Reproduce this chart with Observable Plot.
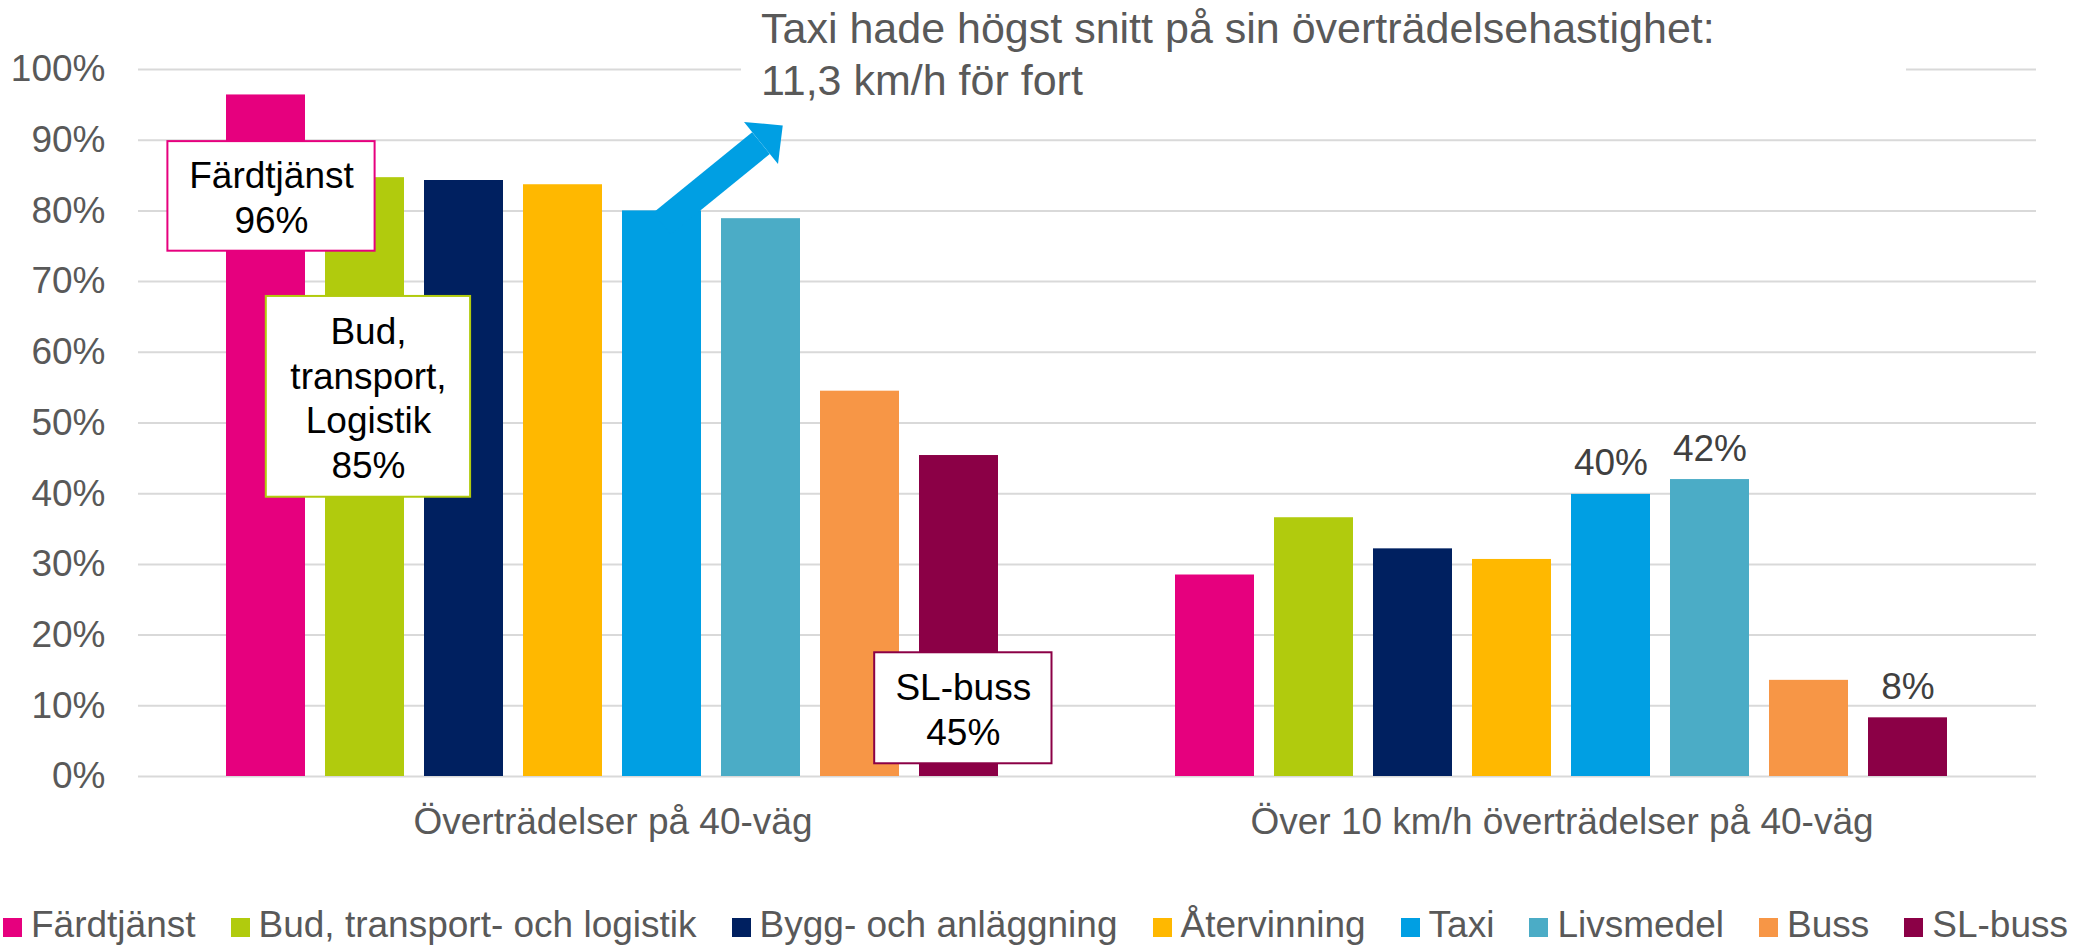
<!DOCTYPE html>
<html>
<head>
<meta charset="utf-8">
<script src="https://cdn.jsdelivr.net/npm/d3@7"></script>
<script src="https://cdn.jsdelivr.net/npm/@observablehq/plot@0.6"></script>
<style>
html, body { margin: 0; padding: 0; background: #fff; overflow: hidden; }
#wrap { position: relative; width: 2077px; height: 945px; font-family: "Liberation Sans", Arial, sans-serif; background: #fff; }
#note { position: absolute; left: 741px; top: 0; width: 1165px; height: 112px; box-sizing: border-box;
        padding-left: 20px; padding-top: 2px; background: #fff; color: #595959; font-size: 43px; line-height: 52px; white-space: nowrap; }
#legend { position: absolute; left: 3px; top: 903px; display: flex; gap: 35px; font-size: 37px; line-height: 44px;
          color: #595959; white-space: nowrap; }
.sw { display: inline-block; width: 19px; height: 19px; margin-right: 9px; vertical-align: baseline; }
</style>
</head>
<body>
<div id="wrap">
  <div id="chart"></div>
  <div id="note">Taxi hade högst snitt på sin överträdelsehastighet:<br>11,3 km/h för fort</div>
  <div id="legend"></div>
</div>
<script>
// ---- data ----
const groups = ["Överträdelser på 40-väg", "Över 10 km/h överträdelser på 40-väg"];
const categories = ["Färdtjänst", "Bud, transport- och logistik", "Bygg- och anläggning", "Återvinning", "Taxi", "Livsmedel", "Buss", "SL-buss"];
const colors = ["#E6007E", "#B1CB0D", "#002060", "#FFB800", "#009FE3", "#4BACC6", "#F79646", "#8B0046"];
const values40 = [96.4, 84.7, 84.3, 83.7, 80.0, 78.9, 54.5, 45.4];
const valuesOver10 = [28.5, 36.6, 32.2, 30.7, 39.9, 42.0, 13.6, 8.3];
const yTicks = [0, 10, 20, 30, 40, 50, 60, 70, 80, 90, 100];
const labeledOver10 = ["Taxi", "Livsmedel", "SL-buss"];
const boxCategories = ["Färdtjänst", "Bud, transport- och logistik", "SL-buss"];
const boxNames = ["Färdtjänst", "Bud,\ntransport,\nLogistik", "SL-buss"];

// ---- table ----
const rows = groups.flatMap((g, gi) => categories.map((c, i) => ({
  group: g, category: c, value: gi === 0 ? values40[i] : valuesOver10[i]
})));
const val = (g, c) => rows.find(d => d.group === g && d.category === c).value;

// annotation placement (layout, not data)
const boxLayout = [
  {y1: 74.3, y2: 89.8, yc: 82.05, il: -58.6, ir: -69.6, dx: 5.5},
  {y1: 39.5, y2: 67.9, yc: 53.7, il: -59.2, ir: -66.1, dx: 3.5},
  {y1: 1.8, y2: 17.5, yc: 9.65, il: -44.8, ir: -53.5, dx: 4.3}
];
const boxes = boxCategories.map((c, i) => ({
  group: groups[0], category: c, label: boxNames[i] + "\n" + Math.round(val(groups[0], c)) + "%",
  color: colors[categories.indexOf(c)], ...boxLayout[i]
}));

const arrowSpec = [{group: groups[0], from: "Taxi", to: "Livsmedel", y1: 78.2, y2: 89.6}];
const headAngle = 51;
const headSymbol = {
  draw(ctx) {
    const t = headAngle * Math.PI / 180, L = 28, W = 54;
    const ux = Math.sin(t), uy = -Math.cos(t), px = Math.cos(t), py = Math.sin(t);
    ctx.moveTo(ux * L, uy * L);
    ctx.lineTo(px * W / 2, py * W / 2);
    ctx.lineTo(-px * W / 2, -py * W / 2);
    ctx.closePath();
  }
};

const boxMarks = boxes.flatMap(b => [
  Plot.barY([b], {fx: "group", x: "category", y1: "y1", y2: "y2", fill: "white", stroke: b.color, strokeWidth: 2,
                  insetLeft: b.il, insetRight: b.ir}),
  Plot.text([b], {fx: "group", x: "category", y: "yc", text: "label", dx: b.dx, fill: "#000",
                  fontSize: 37, lineHeight: 1.2, lineAnchor: "middle"})
]);

const chart = Plot.plot({
  width: 2077,
  height: 870,
  marginLeft: 138,
  marginRight: 41,
  marginTop: 69,
  marginBottom: 94,
  style: {fontFamily: "'Liberation Sans', Arial, sans-serif", fontSize: "37px", color: "#595959", background: "white"},
  fx: {domain: groups, padding: 0, axis: "bottom", tickSize: 0, tickPadding: 31, label: null},
  x: {domain: categories, paddingInner: 0.2, paddingOuter: 0.85, axis: null},
  y: {domain: [0, 100], ticks: yTicks, tickFormat: d => d + "%", tickSize: 0, tickPadding: 33, label: null},
  color: {domain: categories, range: colors},
  marks: [
    Plot.ruleY(yTicks, {stroke: "#D9D9D9", strokeWidth: 2}),
    Plot.barY(rows, {fx: "group", x: "category", y: "value", fill: "category"}),
    Plot.link(arrowSpec, {fx: "group", x1: "from", x2: "to", y1: "y1", y2: "y2", stroke: "#009FE3", strokeWidth: 28}),
    Plot.dot(arrowSpec, {fx: "group", x: "to", y: "y2", symbol: headSymbol, fill: "#009FE3", stroke: "none"}),
    ...boxMarks,
    Plot.text(rows.filter(d => d.group === groups[1] && labeledOver10.includes(d.category)), {
      fx: "group", x: "category", y: "value", text: d => Math.round(d.value) + "%",
      fill: "#404040", fontSize: 37, lineAnchor: "bottom", dy: -19
    })
  ]
});
document.getElementById("chart").appendChild(chart);

// legend
const legend = document.getElementById("legend");
categories.forEach((c, i) => {
  const item = document.createElement("span");
  const sw = document.createElement("span");
  sw.className = "sw";
  sw.style.background = colors[i];
  item.appendChild(sw);
  item.appendChild(document.createTextNode(c));
  legend.appendChild(item);
});
</script>
</body>
</html>
